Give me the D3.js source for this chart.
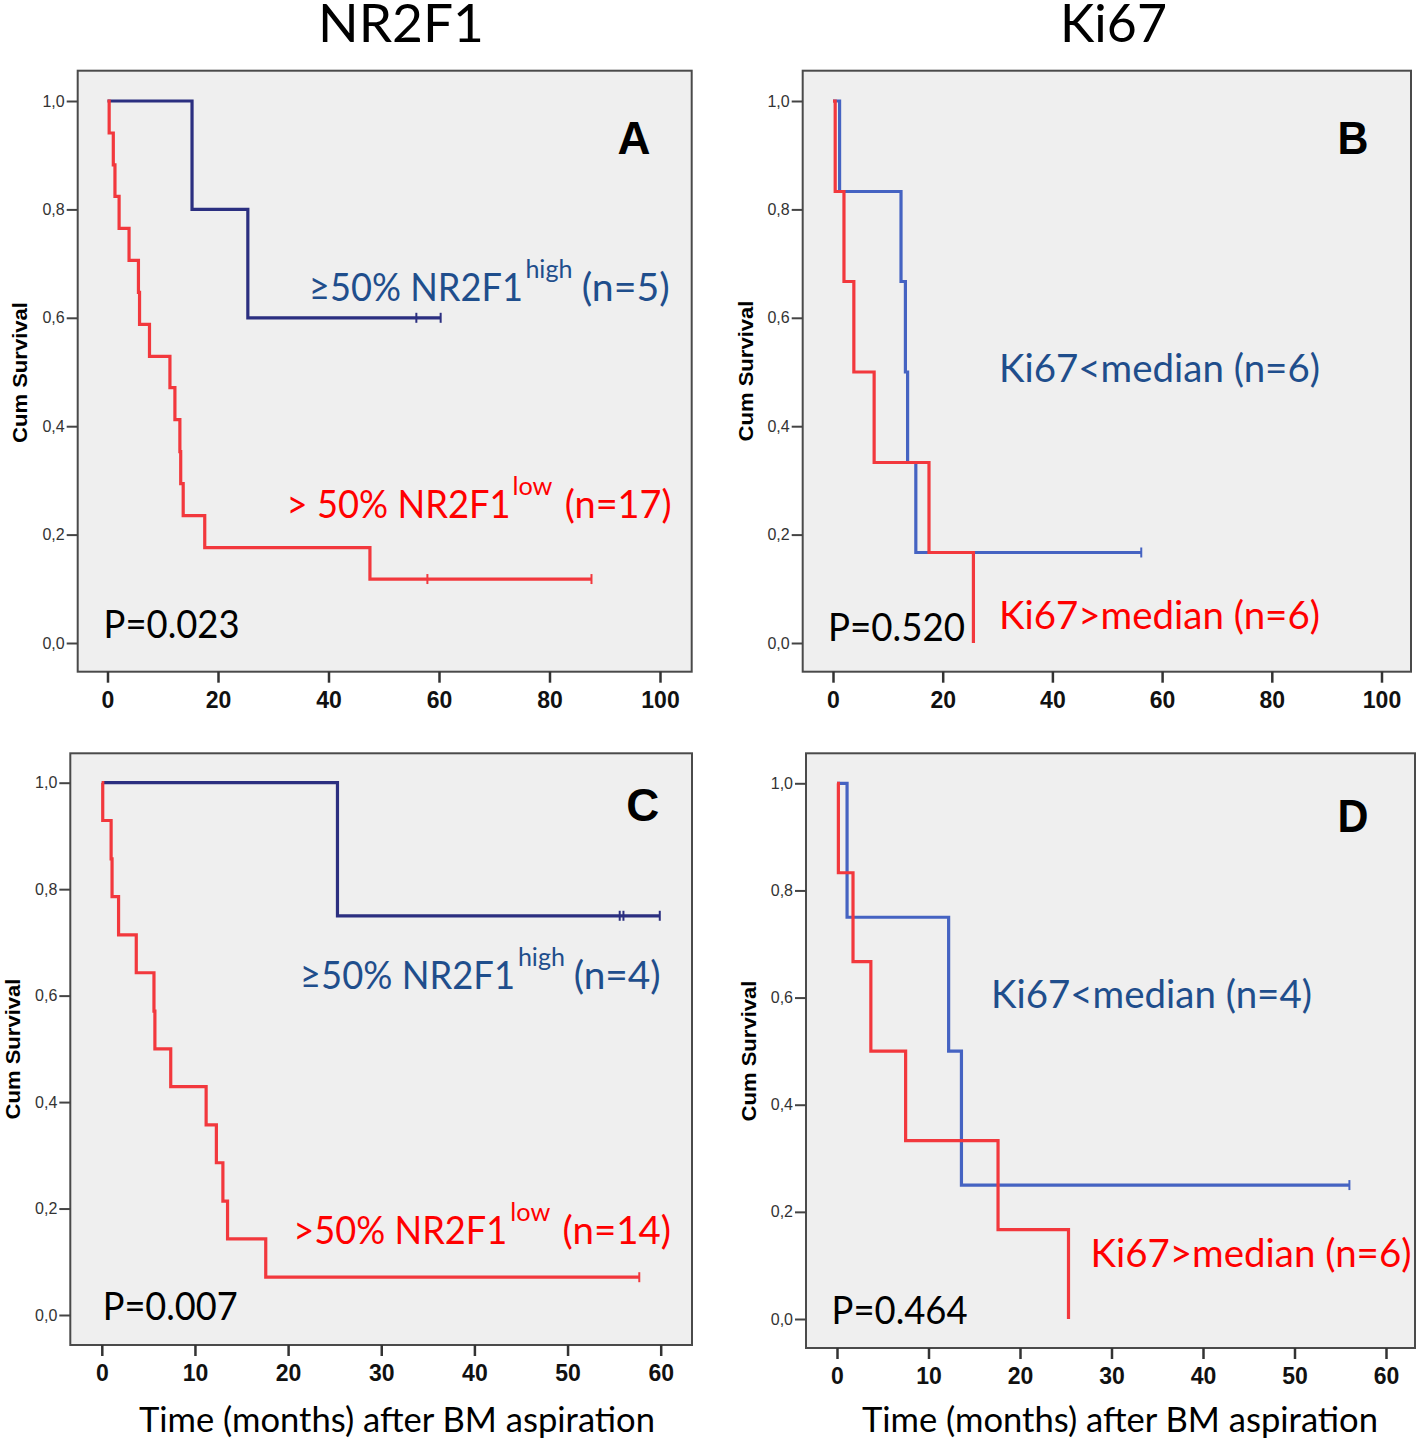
<!DOCTYPE html>
<html><head><meta charset="utf-8">
<script src="https://cdn.jsdelivr.net/npm/d3@7"></script>
<style>body{margin:0;background:#fff} svg{display:block}</style>
</head><body>
<svg id="c" width="1418" height="1439"></svg>
<script>
// ---------------- data ----------------
const xTicksAB = [0, 20, 40, 60, 80, 100];
const xTicksCD = [0, 10, 20, 30, 40, 50, 60];
const yTicks = [0, 0.2, 0.4, 0.6, 0.8, 1.0];
const yTickLabels = ["0,0", "0,2", "0,4", "0,6", "0,8", "1,0"];

// Panel A (NR2F1, all patients)
const aHighTime   = [0, 15.3, 25.4, 60.3];
const aHighSurv   = [1.0, 0.8, 0.6, 0.6];
const aHighCensor = [55.9, 60.3];
const aLowTime    = [0, 0.3, 1.05, 1.35, 2.1, 3.9, 5.6, 5.8, 7.6, 11.3, 12.2, 13.1, 13.25, 13.7, 17.6, 47.5, 87.6];
const aLowSurv    = [1.0, 0.941, 0.882, 0.824, 0.765, 0.706, 0.647, 0.588, 0.529, 0.471, 0.412, 0.353, 0.294, 0.235, 0.176, 0.118, 0.118];
const aLowCensor  = [57.9, 87.6];

// Panel B (Ki67, all patients)
const bHighTime   = [0, 1.2, 12.4, 13.2, 13.6, 15.1, 56.2];
const bHighSurv   = [1.0, 0.833, 0.667, 0.5, 0.333, 0.167, 0.167];
const bHighCensor = [56.2];
const bLowTime    = [0, 0.4, 2.0, 3.8, 7.5, 17.5, 25.6];
const bLowSurv    = [1.0, 0.833, 0.667, 0.5, 0.333, 0.167, 0.0];
const bLowCensor  = [];

// Panel C (NR2F1, subset)
const cHighTime   = [0, 25.3, 59.9];
const cHighSurv   = [1.0, 0.75, 0.75];
const cHighCensor = [55.6, 56.0, 59.9];
const cLowTime    = [0, 0.1, 1.0, 1.1, 1.8, 3.7, 5.6, 5.7, 7.4, 11.2, 12.3, 13.0, 13.5, 17.6, 57.7];
const cLowSurv    = [1.0, 0.929, 0.857, 0.786, 0.714, 0.643, 0.571, 0.5, 0.429, 0.357, 0.286, 0.214, 0.143, 0.071, 0.071];
const cLowCensor  = [57.7];

// Panel D (Ki67, subset)
const dHighTime   = [0, 1.1, 12.2, 13.6, 56.0];
const dHighSurv   = [1.0, 0.75, 0.5, 0.25, 0.25];
const dHighCensor = [56.0];
const dLowTime    = [0, 0.15, 1.75, 3.7, 7.5, 17.6, 25.3];
const dLowSurv    = [1.0, 0.833, 0.667, 0.5, 0.333, 0.167, 0.0];
const dLowCensor  = [];

const columnTitles = ["NR2F1", "Ki67"];
const xAxisTitle = "Time (months) after BM aspiration";
const yAxisTitle = "Cum Survival";
const panelLetters = ["A", "B", "C", "D"];
const pValues = ["P=0.023", "P=0.520", "P=0.007", "P=0.464"];

// ---------------- drawing ----------------
const svg = d3.select("#c");
const CAL = "Lato, 'Open Sans', sans-serif";
const ARIAL = "'Liberation Sans', Arial, sans-serif";
const BLUE_TXT = "#1f4e8c", RED_TXT = "#ff0000";
const RED_LINE = "#f2383d";

function fitText(g, x, y, str, opts) {
  const t = g.append("text").attr("x", x).attr("y", y).text(str)
    .attr("font-family", opts.family || CAL)
    .attr("font-size", opts.size)
    .attr("font-weight", opts.weight || "normal")
    .attr("fill", opts.fill || "#000");
  if (opts.anchor) t.attr("text-anchor", opts.anchor);
  if (opts.width) t.attr("textLength", opts.width).attr("lengthAdjust", "spacingAndGlyphs");
  if (opts.transform) t.attr("transform", opts.transform);
  return t;
}

function drawPanel(cfg) {
  const g = svg.append("g");
  const x = d3.scaleLinear().domain([0, cfg.xMax]).range([cfg.x0, cfg.x1]);
  const y = d3.scaleLinear().domain([0, 1]).range([cfg.y0, cfg.y1]);

  g.append("rect").attr("x", cfg.fx0).attr("y", cfg.fy0)
    .attr("width", cfg.fx1 - cfg.fx0).attr("height", cfg.fy1 - cfg.fy0)
    .attr("fill", "#efefef").attr("stroke", "#4a4a4a").attr("stroke-width", 2);

  const xa = g.append("g").attr("transform", `translate(0,${cfg.fy1})`)
    .call(d3.axisBottom(x).tickValues(cfg.xTicks).tickFormat(d => d).tickSize(11).tickPadding(9));
  xa.select(".domain").remove();
  xa.selectAll("line").attr("stroke", "#333").attr("stroke-width", 2.5);
  xa.selectAll("text").attr("font-family", ARIAL).attr("font-size", 23)
    .attr("font-weight", "bold").attr("fill", "#111");

  const ya = g.append("g").attr("transform", `translate(${cfg.fx0},0)`)
    .call(d3.axisLeft(y).tickValues(yTicks).tickFormat((d, i) => yTickLabels[i]).tickSize(11).tickPadding(2));
  ya.select(".domain").remove();
  ya.selectAll("line").attr("stroke", "#444").attr("stroke-width", 2);
  ya.selectAll("text").attr("font-family", ARIAL).attr("font-size", 16).attr("fill", "#333");

  const line = d3.line().x(d => x(d[0])).y(d => y(d[1])).curve(d3.curveStepAfter);
  cfg.series.forEach(s => {
    const pts = s.time.map((t, i) => [t, s.surv[i]]);
    g.append("path").datum(pts).attr("d", line)
      .attr("fill", "none").attr("stroke", s.color).attr("stroke-width", 3.2)
      .attr("stroke-linejoin", "miter");
    const bis = d3.bisector(d => d).right;
    s.censor.forEach(c => {
      const idx = Math.max(0, bis(s.time, c) - 1);
      const sv = s.surv[idx];
      g.append("line").attr("x1", x(c)).attr("x2", x(c))
        .attr("y1", y(sv) - 5).attr("y2", y(sv) + 5)
        .attr("stroke", s.color).attr("stroke-width", 2);
    });
  });

  fitText(g, 0, 0, yAxisTitle, { family: ARIAL, size: 20, weight: "bold", anchor: "middle",
    width: 141, transform: `translate(${cfg.ytx},${cfg.yty}) rotate(-90)` });
  fitText(g, cfg.letter[0], cfg.letter[1], cfg.letter[2], { family: ARIAL, size: 46, weight: "bold", width: cfg.letter[3] });
  fitText(g, cfg.p[0], cfg.p[1], cfg.p[2], { size: 39, width: cfg.p[3] });
  cfg.labels.forEach(L => {
    L.parts.forEach(p => {
      fitText(g, p[0], p[1], p[2], { size: p[3], width: p[4], fill: L.fill });
    });
  });
}

drawPanel({
  xMax: 100, xTicks: xTicksAB, x0: 107.5, x1: 660, y0: 643, y1: 101,
  fx0: 77.7, fy0: 70.7, fx1: 691.7, fy1: 671.7, ytx: 27, yty: 372.5,
  series: [
    { time: aHighTime, surv: aHighSurv, censor: aHighCensor, color: "#2b2f80" },
    { time: aLowTime, surv: aLowSurv, censor: aLowCensor, color: RED_LINE }
  ],
  letter: [617.4, 153.5, panelLetters[0], 33],
  p: [103.6, 637.5, pValues[0], 136],
  labels: [
    { fill: BLUE_TXT, parts: [[309, 301, "≥50% NR2F1", 38, 214], [525.4, 278, "high", 25, 47], [581.7, 301, "(n=5)", 38, 88]] },
    { fill: RED_TXT, parts: [[286.6, 518.3, "> 50% NR2F1", 38, 224], [512.5, 495, "low", 25, 40], [564.7, 518.3, "(n=17)", 38, 107]] }
  ]
});

drawPanel({
  xMax: 100, xTicks: xTicksAB, x0: 833, x1: 1381.5, y0: 643, y1: 101,
  fx0: 802.7, fy0: 70.7, fx1: 1411, fy1: 671.7, ytx: 753, yty: 371,
  series: [
    { time: bHighTime, surv: bHighSurv, censor: bHighCensor, color: "#4563c2" },
    { time: bLowTime, surv: bLowSurv, censor: bLowCensor, color: RED_LINE }
  ],
  letter: [1337.4, 153.5, panelLetters[1], 31],
  p: [828, 640.5, pValues[1], 137],
  labels: [
    { fill: BLUE_TXT, parts: [[999, 382.2, "Ki67<median (n=6)", 38, 321]] },
    { fill: RED_TXT, parts: [[999, 628.7, "Ki67>median (n=6)", 38, 321]] }
  ]
});

drawPanel({
  xMax: 60, xTicks: xTicksCD, x0: 101.8, x1: 660.7, y0: 1315, y1: 782.7,
  fx0: 70.3, fy0: 753.3, fx1: 692, fy1: 1345, ytx: 19.5, yty: 1049,
  series: [
    { time: cHighTime, surv: cHighSurv, censor: cHighCensor, color: "#2b2f80" },
    { time: cLowTime, surv: cLowSurv, censor: cLowCensor, color: RED_LINE }
  ],
  letter: [626.3, 820.5, panelLetters[2], 33],
  p: [102.7, 1320.4, pValues[2], 135],
  labels: [
    { fill: BLUE_TXT, parts: [[300, 989, "≥50% NR2F1", 38, 215], [517.9, 966, "high", 25, 47], [573.7, 989, "(n=4)", 38, 87]] },
    { fill: RED_TXT, parts: [[293.3, 1244, ">50% NR2F1", 38, 214], [510.3, 1221, "low", 25, 40], [562.5, 1244, "(n=14)", 38, 108.5]] }
  ]
});

drawPanel({
  xMax: 60, xTicks: xTicksCD, x0: 837, x1: 1386, y0: 1319, y1: 783.3,
  fx0: 806, fy0: 753.3, fx1: 1415, fy1: 1348, ytx: 755.5, yty: 1051,
  series: [
    { time: dHighTime, surv: dHighSurv, censor: dHighCensor, color: "#4563c2" },
    { time: dLowTime, surv: dLowSurv, censor: dLowCensor, color: RED_LINE }
  ],
  letter: [1337.4, 832, panelLetters[3], 31],
  p: [831.6, 1323.7, pValues[3], 136],
  labels: [
    { fill: BLUE_TXT, parts: [[991, 1008, "Ki67<median (n=4)", 38, 321]] },
    { fill: RED_TXT, parts: [[1090.5, 1266.5, "Ki67>median (n=6)", 38, 321]] }
  ]
});

fitText(svg, 318, 42, columnTitles[0], { size: 52, width: 166 });
fitText(svg, 1060, 42, columnTitles[1], { size: 52, width: 107 });
fitText(svg, 139, 1432, xAxisTitle, { size: 34, width: 516 });
fitText(svg, 862, 1432, xAxisTitle, { size: 34, width: 516 });
</script>
</body></html>
